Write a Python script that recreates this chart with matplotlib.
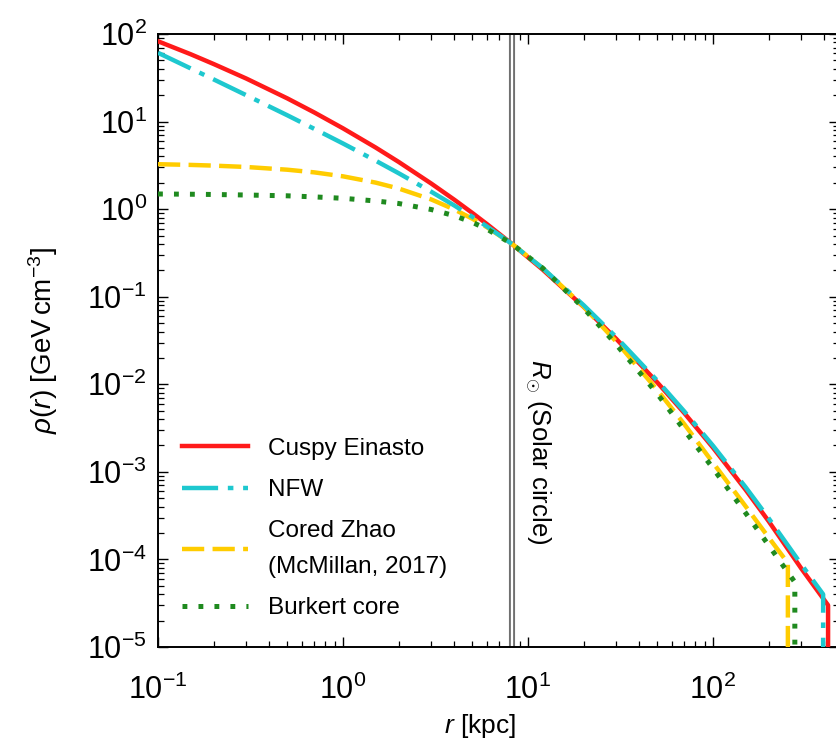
import numpy as np
import matplotlib
matplotlib.use("Agg")
import matplotlib.pyplot as plt
from matplotlib.ticker import LogLocator, NullFormatter

plt.rcParams['font.family'] = ['Liberation Sans', 'DejaVu Sans']
plt.rcParams['mathtext.fontset'] = 'custom'
plt.rcParams['mathtext.rm'] = 'Liberation Sans'
plt.rcParams['mathtext.it'] = 'Liberation Sans:italic'
plt.rcParams['mathtext.bf'] = 'Liberation Sans:bold'
plt.rcParams['lines.scale_dashes'] = False

# ---- data ----
r_ein = [0.1, 0.15, 0.2, 0.3, 0.5, 0.7, 1, 1.5, 2, 3, 4, 5, 6, 8.2, 12, 20, 30, 50, 70,
         100, 150, 200, 300, 419, 419]
rho_ein = [82.6, 58.8, 45.4, 31.0, 18.4, 12.7, 8.37, 5.06, 3.46, 1.96, 1.28, 0.905, 0.675,
           0.4, 0.204, 0.0765, 0.033, 0.0105, 0.00469, 0.00189, 6.26e-4, 2.73e-4,
           7.9e-5, 3.0e-5, 1e-6]

r_nfw = [0.1, 0.15, 0.2, 0.3, 0.5, 0.7, 1, 1.5, 2, 3, 4, 5, 6, 8.2, 12, 20, 30, 50, 70,
         100, 150, 200, 300, 394, 394]
rho_nfw = [61.0, 40.5, 30.3, 20.0, 11.8, 8.25, 5.62, 3.58, 2.57, 1.58, 1.10, 0.818, 0.634,
           0.4, 0.212, 0.080, 0.0345, 0.0110, 0.0049, 0.00199, 6.7e-4, 2.95e-4,
           8.8e-5, 4.0e-5, 1e-6]

r_zhao = [0.1, 0.15, 0.2, 0.3, 0.5, 0.7, 1, 1.5, 2, 3, 4, 5, 6, 8.2, 12, 20, 30, 50, 70,
          100, 150, 200, 254, 254]
rho_zhao = [3.26, 3.20, 3.14, 3.03, 2.82, 2.63, 2.37, 2.01, 1.72, 1.29, 0.991, 0.778, 0.622,
            0.4, 0.212, 0.0769, 0.0307, 0.0086, 0.0035, 0.00127, 4.05e-4, 1.78e-4,
            9.1e-5, 1e-6]

r_burk = [0.1, 0.15, 0.2, 0.3, 0.5, 0.7, 1, 1.5, 2, 3, 4, 5, 6, 8.2, 12, 20, 30, 50, 70,
          100, 150, 200, 277, 277]
rho_burk = [1.49, 1.48, 1.47, 1.45, 1.42, 1.38, 1.33, 1.24, 1.16, 0.99, 0.841, 0.707, 0.592,
            0.4, 0.212, 0.074, 0.0285, 0.0078, 0.0030, 0.0011, 3.4e-4, 1.45e-4,
            5.5e-5, 1e-6]

labels = ["Cuspy Einasto", "NFW", "Cored Zhao\n(McMillan, 2017)", "Burkert core"]
R_sun = 8.2

# ---- figure ----
fig = plt.figure(figsize=(8.37, 7.51), dpi=100)
ax = fig.add_axes([158/837, 1-647/751, 681/837, 613/751])

lw = 3.2
ax.plot(r_ein, rho_ein, color='#ff1a1a', lw=lw, ls='-', label=labels[0], zorder=3)
ax.plot(r_nfw, rho_nfw, color='#1ec8cf', lw=lw, ls=(0, (26, 7, 4, 7)),
        label=labels[1], zorder=4)
ax.plot(r_zhao, rho_zhao, color='#ffcc00', lw=lw, ls=(0, (16, 6)), label=labels[2], zorder=3)
ax.plot(r_burk, rho_burk, color='#1f8a1f', lw=3.6, ls=(0, (3.5, 8)),
        dash_capstyle='butt', label=labels[3], zorder=5)

# solar circle double line
ax.axvline(R_sun, color='#707070', lw=4.4, zorder=2)
ax.axvline(R_sun, color='white', lw=1.6, zorder=2)
ax.text(11.3, 0.47, r"$R_{\odot}$ (Solar circle)", rotation=-90, ha='center', va='top',
        fontsize=18.5, transform=ax.get_xaxis_transform())

ax.set_xscale('log')
ax.set_yscale('log')
ax.set_xlim(0.1, 480)
ax.set_ylim(1e-5, 1e2)

for axis in (ax.xaxis, ax.yaxis):
    axis.set_major_locator(LogLocator(base=10, numticks=20))
    axis.set_minor_locator(LogLocator(base=10, subs=np.arange(2, 10), numticks=100))
    axis.set_minor_formatter(NullFormatter())

ax.tick_params(which='both', direction='in', top=True, right=True)
ax.tick_params(which='major', length=7, width=1.0, labelsize=22)
ax.tick_params(which='minor', length=4, width=0.9)
ax.tick_params(axis='x', which='major', pad=20)
ax.tick_params(axis='y', which='major', pad=8)
for s in ax.spines.values():
    s.set_linewidth(1.4)

ax.set_xlabel(r"$r$ [kpc]", fontsize=19)
ax.set_ylabel(r"$\rho(r)$ [GeV$\,$cm$^{-3}$]", fontsize=20)
ax.xaxis.set_label_coords(322/681, -0.106)
ax.yaxis.set_label_coords(-98/681, 0.5)

leg = ax.legend(loc='upper left', bbox_to_anchor=(24/681, 0.341), frameon=False,
                fontsize=17.5, handlelength=2.7, handletextpad=0.85, labelspacing=0.79,
                borderpad=0, borderaxespad=0)
for t in leg.get_texts():
    t.set_linespacing(1.8)

fig.savefig("out.png", dpi=100)
